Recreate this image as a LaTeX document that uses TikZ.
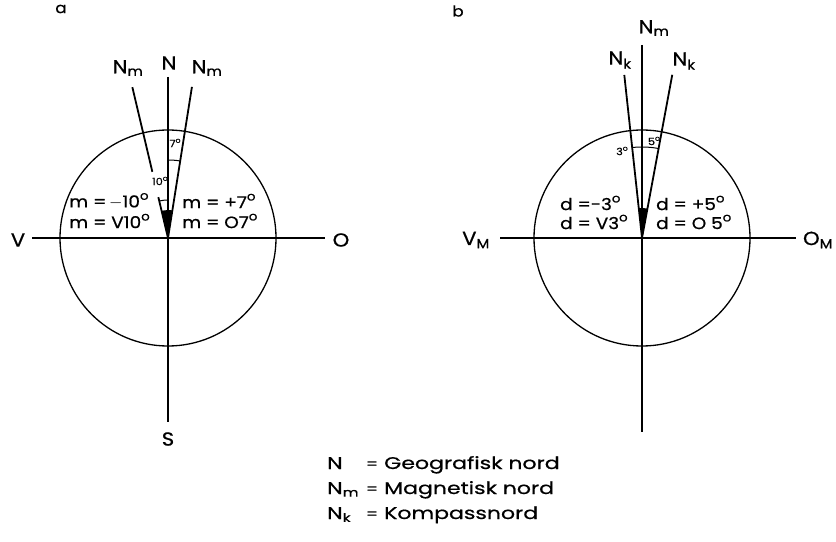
\documentclass[tikz,border=0pt]{standalone}
\usepackage{fontspec}
\setmainfont{Poppins}[FakeBold=0.7,FakeStretch=1.12]
\newfontfamily\legfont{Poppins}[FakeBold=0.7,FakeStretch=1.3]
\usetikzlibrary{calc}
\newcommand\dg{\raisebox{0.85ex}{\fontsize{12}{12}\selectfont o}}
\newcommand\sdg{\raisebox{0.8ex}{\fontsize{7}{7}\selectfont o}}
\begin{document}
\begin{tikzpicture}[x=1bp,y=-1bp,
  axis/.style={line width=1.8bp},
  dirline/.style={line width=1.8bp},
  rim/.style={line width=1.3bp},
  anglemark/.style={line width=1bp},
  lbl/.style={font=\fontsize{19}{19}\selectfont, inner sep=0pt},
  eqn/.style={font=\fontsize{16.5}{18}\selectfont, inner sep=0pt, anchor=west, align=left},
  small/.style={font=\fontsize{10}{10}\selectfont, inner sep=0pt},
  leg/.style={font=\legfont\fontsize{17}{17}\selectfont, inner sep=0pt, anchor=base west},
  legeq/.style={font=\fontsize{15}{15}\selectfont, inner sep=0pt, anchor=base}]
\useasboundingbox (0,0) rectangle (836,542);

% ---------- a ----------
\node[lbl, font=\fontsize{15}{15}\selectfont] (la) at (61,9) {a};
\coordinate (ca) at (168,238);
\draw[rim] (ca) circle[radius=108];
\coordinate (aW) at (32,238);
\coordinate (aE) at (325,238);
\coordinate (aN) at (168,77);
\coordinate (aS) at (168,422);
\draw[axis] (aW) -- (aE);
\draw[axis] (aN) -- (aS);
\node[lbl] (tV) at (18,240) {V};
\node[lbl] (tO) at (341,240) {O};
\node[lbl] (tS) at (168,439) {S};
\node[lbl] (tN) at (169,63) {N};
\node[lbl] (tNmL) at (128,68) {N\textsubscript{m}};
\node[lbl] (tNmR) at (207,68) {N\textsubscript{m}};
% magnetic north lines
\coordinate (mL1) at ($(ca)+(-103.3:42)$);
\coordinate (mL2) at ($(ca)+(-103.3:68)$);
\coordinate (mLt) at ($(ca)+(-103.3:155)$);
\coordinate (mRt) at ($(ca)+(-81:153)$);
\draw[dirline] (ca) -- (mL1);
\draw[dirline] (mL2) -- (mLt);
\draw[dirline] (ca) -- (mRt);
\fill (ca) -- ($(ca)+(-103.3:28)$) -- ($(ca)+(-90:28)$) -- cycle;
\fill (ca) -- ($(ca)+(-81:28)$) -- ($(ca)+(-90:28)$) -- cycle;
% angle marks
\draw[anglemark] ($(ca)+(-90:78)$) arc[start angle=-90, end angle=-81, radius=78];
\draw[anglemark] ($(ca)+(-90:38)$) arc[start angle=-90, end angle=-103.3, radius=38];
\node[small] (t7) at (175,143) {7\sdg};
\node[small] (t10) at (160,181) {10\sdg};
\node[eqn] (ma1) at (69,201) {m =\,\(-\)10\dg};
\node[eqn] (ma2) at (69,221) {m = V10\dg};
\node[eqn] (mb1) at (182,201) {m = +7\dg};
\node[eqn] (mb2) at (182,221) {m = O7\dg};

% ---------- b ----------
\node[lbl, font=\fontsize{15}{15}\selectfont] (lb) at (458,11) {b};
\coordinate (cb) at (642,238);
\draw[rim] (cb) circle[radius=108];
\coordinate (bW) at (500,238);
\coordinate (bE) at (796,238);
\coordinate (bN) at (642,45);
\coordinate (bS) at (642,432);
\draw[axis] (bW) -- (bE);
\draw[axis] (bN) -- (bS);
\node[lbl] (tVM) at (476,240) {V\textsubscript{M}};
\node[lbl] (tOM) at (818,240) {O\textsubscript{M}};
\node[lbl] (tNm) at (654,28) {N\textsubscript{m}};
\node[lbl] (tNkL) at (620,60) {N\textsubscript{k}};
\node[lbl] (tNkR) at (684,61) {N\textsubscript{k}};
\coordinate (kLt) at ($(cb)+(-96.2:164)$);
\coordinate (kRt) at ($(cb)+(-79.5:166)$);
\draw[dirline] (cb) -- (kLt);
\draw[dirline] (cb) -- (kRt);
\fill (cb) -- ($(cb)+(-96.2:30)$) -- ($(cb)+(-90:30)$) -- cycle;
\fill (cb) -- ($(cb)+(-79.5:30)$) -- ($(cb)+(-90:30)$) -- cycle;
\draw[anglemark] ($(cb)+(-96.2:91)$) arc[start angle=-96.2, end angle=-79.5, radius=91];
\node[small] (t3) at (622,151) {3\sdg};
\node[small] (t5) at (654,141) {5\sdg};
\node[eqn] (da1) at (560,203) {d =-3\dg};
\node[eqn] (da2) at (560,222) {d = V3\dg};
\node[eqn] (db1) at (656,203) {d = +5\dg};
\node[eqn] (db2) at (656,222) {d = O 5\dg};

% ---------- legend ----------
\node[leg] (g1a) at (327,469) {N};
\node[legeq] (g1b) at (372,469) {=};
\node[leg] (g1c) at (384,469) {Geografisk nord};
\node[leg] (g2a) at (327,494) {N\textsubscript{m}};
\node[legeq] (g2b) at (372,494) {=};
\node[leg] (g2c) at (384,494) {Magnetisk nord};
\node[leg] (g3a) at (327,519) {N\textsubscript{k}};
\node[legeq] (g3b) at (372,519) {=};
\node[leg] (g3c) at (384,519) {Kompassnord};
\end{tikzpicture}
\end{document}
